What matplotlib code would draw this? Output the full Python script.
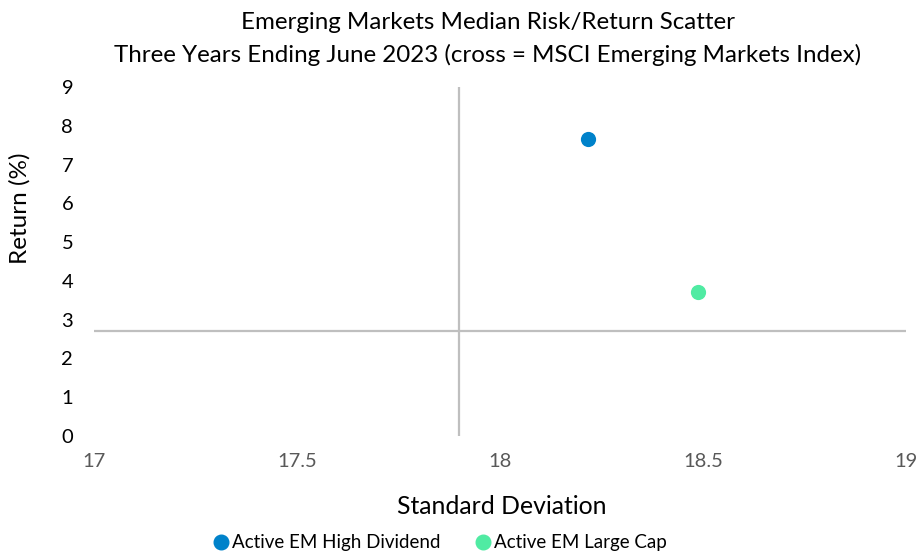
import matplotlib.pyplot as plt
from matplotlib.lines import Line2D

plt.rcParams['font.family'] = ['Lato', 'DejaVu Sans']

# data
series_names = ['Active EM High Dividend', 'Active EM Large Cap']
std_dev = [18.217, 18.488]
returns = [7.66, 3.71]
colors = ['#0082CA', '#50EBA3']

# MSCI EM index cross
index_std = 17.9
index_ret = 2.72

x_ticks = [17, 17.5, 18, 18.5, 19]
y_ticks = list(range(0, 10))

fig = plt.figure(figsize=(9.17, 5.54), dpi=100)
ax = fig.add_axes([0.1025, 0.213, 0.8855, 0.630])

ax.axvline(index_std, color='#BFBFBF', lw=1.6, zorder=1)
ax.axhline(index_ret, color='#BFBFBF', lw=1.6, zorder=1)

for x, y, c in zip(std_dev, returns, colors):
    ax.scatter(x, y, s=120, color=c, zorder=3, linewidths=0)

ax.set_xlim(17, 19)
ax.set_ylim(0, 9)
ax.set_xticks(x_ticks)
ax.set_xticklabels([f'{v:g}' for v in x_ticks], color='#595959', fontsize=14.5)
ax.set_yticks(y_ticks)
ax.set_yticklabels([str(v) for v in y_ticks], color='black', fontsize=14.5)
ax.tick_params(axis='both', length=0)
ax.tick_params(axis='x', pad=12)
ax.tick_params(axis='y', pad=15)
for s in ax.spines.values():
    s.set_visible(False)

fig.text(0.532, 0.960, 'Emerging Markets Median Risk/Return Scatter',
         ha='center', va='center', fontsize=17.4)
fig.text(0.532, 0.901, 'Three Years Ending June 2023 (cross = MSCI Emerging Markets Index)',
         ha='center', va='center', fontsize=17.4)
fig.text(0.022, 0.625, 'Return (%)', rotation=90, ha='center', va='center', fontsize=17.5)
fig.text(0.547, 0.085, 'Standard Deviation', ha='center', va='center', fontsize=17.8)

handles = [Line2D([], [], marker='o', ls='none', color=c, markersize=10.5) for c in colors]
fig.legend(handles, series_names, loc='center', bbox_to_anchor=(0.479, 0.02),
           ncol=2, frameon=False, fontsize=13.5, handletextpad=0.05,
           columnspacing=1.8, handlelength=1.0)

fig.savefig('out.png', dpi=100)
